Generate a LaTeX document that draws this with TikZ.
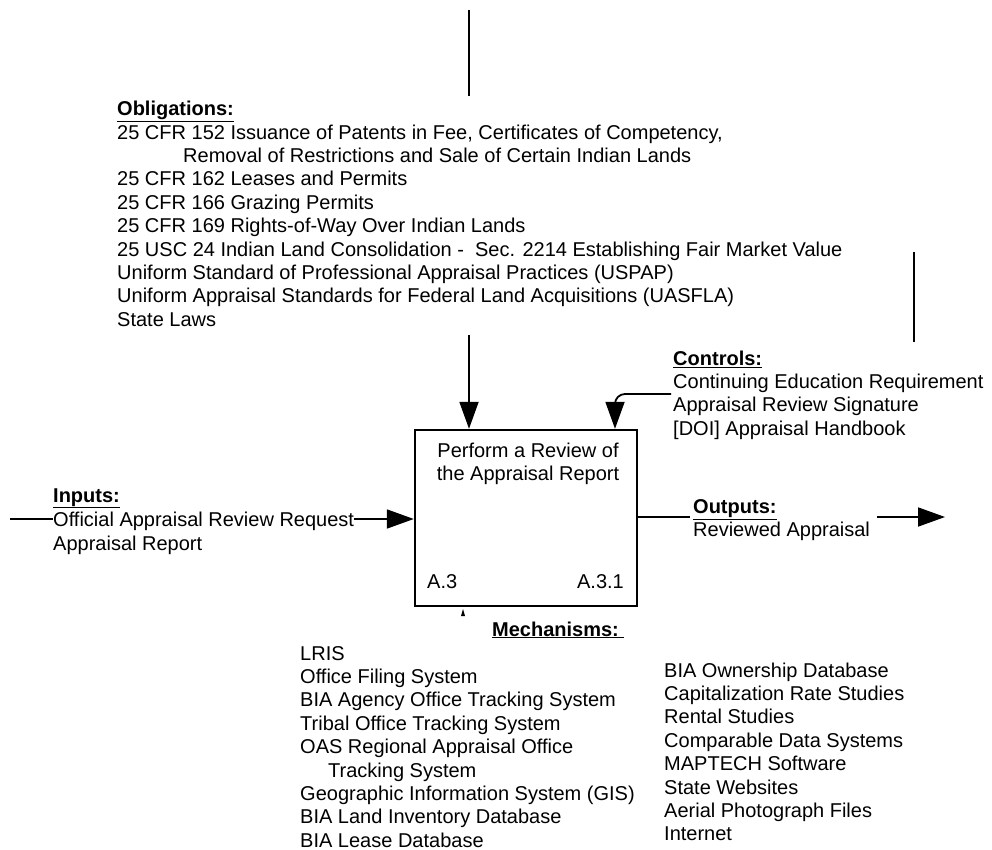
\documentclass[tikz,border=0pt]{standalone}
\usepackage{fontspec}
\setmainfont{Liberation Sans}
\usetikzlibrary{arrows.meta}
\newcommand\idefhead[1]{\underline{\textbf{#1}}}
\begin{document}
\begin{tikzpicture}[x=1pt,y=-1pt,
  txt/.style={anchor=north west, inner sep=0pt, align=left, font=\fontsize{20}{23.4}\selectfont},
  lbl/.style={inner sep=0pt, font=\fontsize{20}{23.4}\selectfont},
  wire/.style={line width=1.8pt},
  arr/.style={wire, -{Triangle[length=27pt,width=19pt]}},
  activity/.style={draw, line width=2.4pt, minimum width=222pt, minimum height=176pt, inner sep=0pt}
  ]
\useasboundingbox (0,0) rectangle (992,850);

% activity box
\node[activity] (box) at (526,518) {};
\node[lbl, align=center, anchor=north] (boxTitle) at (528,440.6) {\strut Perform a Review of\\the Appraisal Report};
\node[lbl, anchor=base west] (nodeId) at (427,588) {A.3};
\node[lbl, anchor=base east] (nodeNo) at (624,588) {A.3.1};

% obligations
\coordinate (oblTop) at (469,10);
\coordinate (oblBot) at (469,96);
\draw[wire] (oblTop) -- (oblBot);
\node[txt] (obl) at (117,99.1) {\strut\idefhead{Obligations:}\\
25 CFR 152 Issuance of Patents in Fee, Certificates of Competency,\\
\hspace*{66pt}Removal of Restrictions and Sale of Certain Indian Lands\\
25 CFR 162 Leases and Permits\\
25 CFR 166 Grazing Permits\\
25 CFR 169 Rights-of-Way Over Indian Lands\\
25 USC 24 Indian Land Consolidation -\ \ Sec. 2214 Establishing Fair Market Value\\
Uniform Standard of Professional Appraisal Practices (USPAP)\\
Uniform Appraisal Standards for Federal Land Acquisitions (UASFLA)\\
State Laws};
\coordinate (oblFoot) at (469,335);
\draw[arr] (oblFoot) -- (oblFoot |- box.north);

% controls
\coordinate (ctlTop) at (914,252);
\coordinate (ctlBot) at (914,342);
\draw[wire] (ctlTop) -- (ctlBot);
\node[txt] (ctl) at (673,348.6) {\strut\idefhead{Controls:}\\
Continuing Education Requirement\\
Appraisal Review Signature\\
{[DOI]} Appraisal Handbook};
\coordinate (ctlIn) at (671,394);
\coordinate (ctlDrop) at (615,0);
\draw[arr, rounded corners=10pt] (ctlIn) -| (ctlDrop |- box.north);

% inputs
\node[lbl, anchor=base west] (inHead) at (53,502) {\idefhead{Inputs:}};
\node[lbl, anchor=base west] (inReq) at (53,526) {Official Appraisal Review Request};
\node[lbl, anchor=base west] (inRep) at (53,550) {Appraisal Report};
\coordinate (inStart) at (10,519);
\draw[wire] (inStart) -- (inStart -| inReq.west);
\draw[arr] (inStart -| inReq.east) -- (inStart -| box.west);

% outputs
\node[txt] (out) at (693,496.6) {\strut\idefhead{Outputs:}\\
Reviewed Appraisal};
\coordinate (outJoin) at (690,517);
\draw[wire] (outJoin -| box.east) -- (outJoin);
\coordinate (outA) at (877,517);
\coordinate (outB) at (945,517);
\draw[arr] (outA) -- (outB);

% mechanisms
\coordinate (mechTick) at (463,616);
\fill (mechTick) -- ++(-2,0) -- ++(2,-7) -- ++(2,7) -- cycle;
\node[lbl, anchor=base west] (mechHead) at (492,636) {\idefhead{Mechanisms:~}};
\node[txt] (mechL) at (300,643.6) {\strut LRIS\\
Office Filing System\\
BIA Agency Office Tracking System\\
Tribal Office Tracking System\\
OAS Regional Appraisal Office\\
\hspace*{28pt}Tracking System\\
Geographic Information System (GIS)\\
BIA Land Inventory Database\\
BIA Lease Database};
\node[txt] (mechR) at (664,660.6) {\strut BIA Ownership Database\\
Capitalization Rate Studies\\
Rental Studies\\
Comparable Data Systems\\
MAPTECH Software\\
State Websites\\
Aerial Photograph Files\\
Internet};
\end{tikzpicture}
\end{document}
